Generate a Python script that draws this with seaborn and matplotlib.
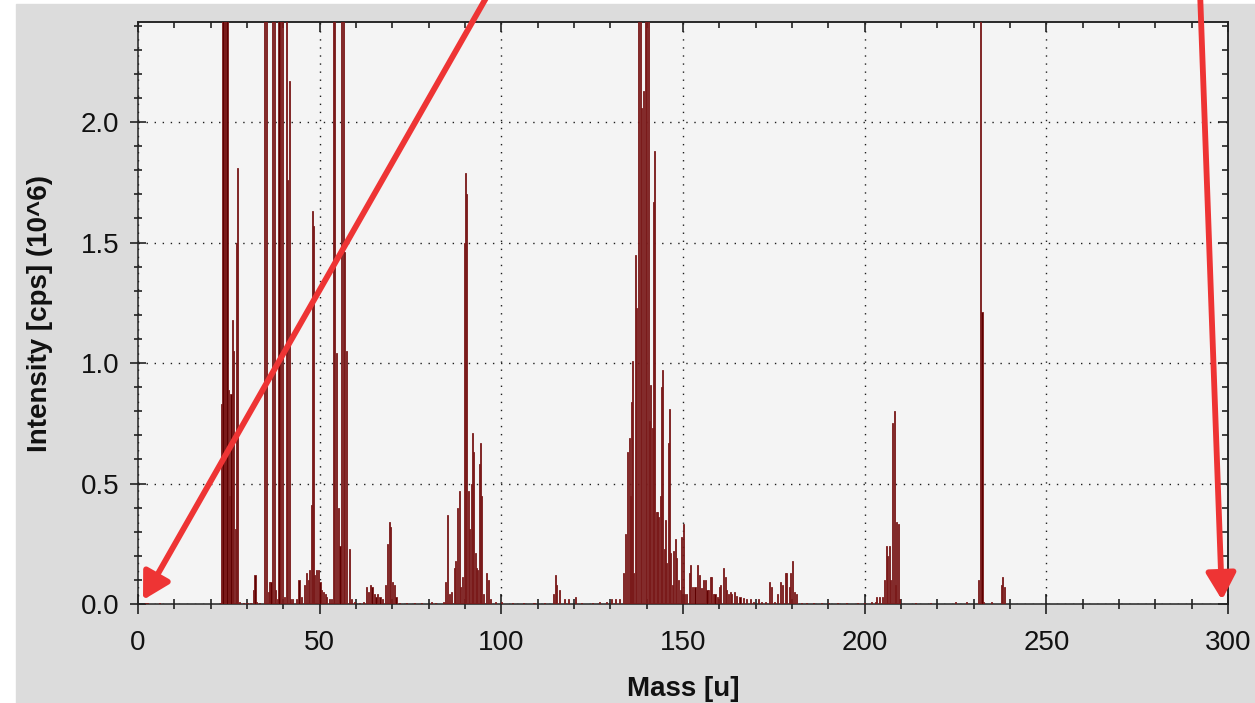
import matplotlib
matplotlib.use('Agg')

import pandas as pd
import seaborn as sns
import matplotlib.pyplot as plt
from matplotlib.patches import Rectangle, FancyArrowPatch
from matplotlib.ticker import MultipleLocator, FormatStrFormatter

# peaks: mass in u, intensity in 10^6 cps
# (2.6 = peak runs off the top of the axis)
mass_a = [2.0, 2.5, 6.0, 22.6, 23.0, 23.4, 23.7, 24.1, 24.5, 24.8, 25.2, 25.6, 26.0,
          26.4, 26.8, 27.1, 27.5, 27.9, 29.0, 30.0, 31.0, 31.9, 32.2, 32.6]
int_a = [0.006, 0.004, 0.003, 0.004, 0.83, 2.6, 2.6, 2.6, 2.6, 0.89, 0.45, 0.87, 1.18,
         1.05, 0.31, 1.50, 1.81, 0.01, 0.005, 0.005, 0.005, 0.06, 0.12, 0.01]

mass_b = [33.5, 34.9, 35.4, 35.8, 36.2, 36.6, 37.1, 37.5, 37.9, 38.3, 38.8, 39.3, 39.8,
          40.3, 40.9, 41.2, 41.6, 42.0, 42.5, 43.6, 44.3, 45.1, 45.9, 46.4, 46.9, 47.3,
          47.8, 48.1, 48.4, 48.7, 49.2, 49.6, 50.1, 50.5, 51.0, 51.5, 51.9, 52.6, 53.3,
          53.75, 54.2, 54.6, 55.1, 55.6, 56.1, 56.5, 56.9, 57.4, 58.1, 58.8]
int_b = [0.005, 2.6, 2.6, 0.05, 0.09, 0.09, 2.6, 2.6, 0.06, 0.02, 2.6, 2.6, 2.6,
         0.03, 2.6, 1.76, 2.17, 0.02, 0.02, 0.02, 0.10, 0.03, 0.08, 0.13, 0.10, 0.14,
         0.41, 1.63, 1.57, 0.12, 0.14, 0.14, 0.09, 0.06, 0.05, 0.04, 0.03, 0.02, 0.02,
         2.6, 2.6, 1.04, 0.40, 0.24, 2.6, 2.6, 1.46, 1.05, 0.23, 0.02]

mass_c = [59.7, 61.0, 62.0, 63.0, 63.4, 63.9, 64.4, 65.0, 65.5, 66.0, 66.6, 67.2, 68.0,
          68.7, 69.1, 69.5, 70.0, 70.6, 71.0, 72.0, 74.0, 76.0, 78.0, 80.7, 82.0, 84.0,
          84.7, 85.3, 85.7, 86.2, 87.0, 87.4, 88.0, 88.4, 88.7, 89.3, 89.8, 90.1, 90.5,
          90.9, 91.3, 91.7, 92.0, 92.4, 92.8, 93.1, 93.5, 93.9, 94.2, 94.6, 95.1, 96.0,
          96.4, 97.0, 98.5]
int_c = [0.01, 0.005, 0.01, 0.07, 0.05, 0.08, 0.07, 0.04, 0.03, 0.04, 0.03, 0.02, 0.08,
         0.25, 0.34, 0.32, 0.09, 0.08, 0.03, 0.005, 0.005, 0.005, 0.005, 0.01, 0.005, 0.01,
         0.09, 0.37, 0.04, 0.05, 0.15, 0.18, 0.40, 0.47, 0.07, 0.11, 1.50, 1.79, 1.70,
         0.47, 0.31, 0.50, 0.71, 0.63, 0.21, 0.15, 0.14, 0.58, 0.67, 0.45, 0.04, 0.13,
         0.10, 0.02, 0.01]

mass_d = [100.0, 103.0, 106.0, 109.0, 112.0, 114.4, 114.8, 115.2, 116.1, 117.5, 118.5,
          120.3, 122.0, 125.0, 127.0, 129.0, 130.4]
int_d = [0.01, 0.005, 0.005, 0.005, 0.005, 0.04, 0.12, 0.08, 0.06, 0.02, 0.02,
         0.03, 0.005, 0.005, 0.01, 0.01, 0.02]

mass_e = [131.5, 132.5, 133.6, 134.1, 134.8, 135.2, 135.5, 135.9, 136.2, 136.5, 137.0,
          137.3, 137.7, 138.2, 138.6, 139.1, 139.6, 140.0, 140.4, 140.7, 141.1, 141.6,
          141.9, 142.2, 142.6, 143.0, 143.3, 143.7, 144.1, 144.4, 144.8, 145.2, 145.5,
          146.0, 146.3, 146.6, 147.0, 147.5, 147.9, 148.3, 148.8, 149.2, 149.7, 150.1,
          150.5, 151.0, 151.8, 152.1, 152.7, 153.3, 154.0, 154.5]
int_e = [0.02, 0.02, 0.13, 0.29, 0.63, 0.69, 0.45, 0.84, 1.01, 0.13, 1.45,
         1.23, 2.6, 2.6, 2.06, 2.13, 2.6, 2.6, 2.6, 0.76, 0.91, 0.73,
         1.67, 1.88, 0.38, 0.38, 0.36, 0.45, 0.90, 0.97, 0.23, 0.35, 0.17,
         0.67, 0.81, 0.21, 0.08, 0.22, 0.27, 0.19, 0.10, 0.06, 0.28, 0.33,
         0.04, 0.04, 0.13, 0.16, 0.07, 0.07, 0.16, 0.12]

mass_f = [155.1, 155.6, 156.1, 156.6, 157.0, 157.5, 157.9, 158.4, 158.8, 159.4, 160.0,
          160.4, 161.1, 161.6, 162.0, 162.5, 163.0, 163.4, 164.1, 164.8, 165.7, 166.6,
          167.5, 168.5, 169.4, 170.7, 171.7, 172.6, 173.9, 174.4, 175.3, 176.0, 176.9,
          177.4, 178.1, 178.5, 179.2, 179.6, 180.2, 180.7, 181.3, 182.5, 184.0]
int_f = [0.065, 0.10, 0.10, 0.06, 0.06, 0.11, 0.11, 0.04, 0.04, 0.03, 0.07,
         0.08, 0.15, 0.11, 0.06, 0.04, 0.05, 0.04, 0.05, 0.035, 0.03, 0.025,
         0.02, 0.02, 0.01, 0.02, 0.01, 0.01, 0.09, 0.07, 0.01, 0.04, 0.09,
         0.08, 0.13, 0.13, 0.07, 0.13, 0.18, 0.05, 0.04, 0.005, 0.005]

mass_g = [186.0, 188.0, 190.0, 192.5, 195.0, 198.0, 200.0, 202.0, 202.9, 203.3, 204.2,
          205.0, 205.4, 205.9, 206.3, 206.8, 207.2, 207.6, 208.1, 208.4, 208.8, 209.3,
          209.7, 214.0, 218.0, 225.0, 228.0, 231.3, 231.8, 232.3, 232.7, 235.0, 237.7,
          238.0, 238.5]
int_g = [0.005, 0.005, 0.005, 0.005, 0.005, 0.005, 0.005, 0.01, 0.01, 0.03, 0.03,
         0.03, 0.10, 0.24, 0.20, 0.24, 0.10, 0.75, 0.80, 0.08, 0.34, 0.33,
         0.02, 0.005, 0.005, 0.01, 0.01, 0.10, 2.6, 1.21, 0.01, 0.01, 0.08,
         0.11, 0.07]

df = pd.DataFrame({
    'mass': mass_a + mass_b + mass_c + mass_d + mass_e + mass_f + mass_g,
    'intensity': int_a + int_b + int_c + int_d + int_e + int_f + int_g,
})

sns.set_style('ticks')
plt.rcParams['font.family'] = ['Liberation Sans', 'DejaVu Sans']

W, H = 1255, 703
fig = plt.figure(figsize=(W / 100, H / 100), dpi=100, facecolor='white')
# grey panel behind the plot (screenshot has a thin white strip left/top)
fig.patches.append(Rectangle((16 / W, 0), 1, 1 - 4 / H, transform=fig.transFigure,
                             color='#dcdcdc', zorder=-10))

ax = fig.add_axes([138 / W, 99 / H, 1090 / W, 582 / H])
ax.set_facecolor('#f4f4f4')
ax.set_axisbelow(True)

sns.barplot(data=df, x='mass', y='intensity', native_scale=True, errorbar=None,
            color='#5e0000', saturation=1, width=1.0,
            edgecolor='#7c1c1c', linewidth=0.6, ax=ax, zorder=3)

ax.set_xlim(0, 300)
ax.set_ylim(0, 2.415)

ax.xaxis.set_major_locator(MultipleLocator(50))
ax.xaxis.set_minor_locator(MultipleLocator(10))
ax.yaxis.set_major_locator(MultipleLocator(0.5))
ax.yaxis.set_minor_locator(MultipleLocator(0.1))
ax.yaxis.set_major_formatter(FormatStrFormatter('%.1f'))

ax.grid(which='major', color='#1e1e1e', lw=1.0, ls=(0, (1, 4.8)))

ax.tick_params(axis='x', which='major', direction='inout', length=14, width=1.1,
               labelsize=20, pad=12, color='#111111', labelcolor='#111111')
ax.tick_params(axis='x', which='minor', direction='inout', length=7, width=1.1,
               color='#111111')
ax.tick_params(axis='y', which='major', direction='inout', length=11, width=1.1,
               labelsize=20, pad=8, color='#111111', labelcolor='#111111')
ax.tick_params(axis='y', which='minor', direction='inout', length=6, width=1.1,
               color='#111111')

# top and right ticks point inward
top = ax.secondary_xaxis('top')
top.xaxis.set_major_locator(MultipleLocator(50))
top.xaxis.set_minor_locator(MultipleLocator(10))
top.tick_params(which='major', direction='in', length=7, width=1.1, labeltop=False,
                color='#111111')
top.tick_params(which='minor', direction='in', length=4.5, width=1.1, color='#111111')
right = ax.secondary_yaxis('right')
right.yaxis.set_major_locator(MultipleLocator(0.5))
right.yaxis.set_minor_locator(MultipleLocator(0.1))
right.tick_params(which='major', direction='in', length=7, width=1.1, labelright=False,
                  color='#111111')
right.tick_params(which='minor', direction='in', length=4, width=1.1, color='#111111')

for sp in list(ax.spines.values()) + list(top.spines.values()) + list(right.spines.values()):
    sp.set_color('#222222')
    sp.set_linewidth(1.1)

ax.set_xlabel('Mass [u]', fontsize=20, fontweight='bold', labelpad=14, color='#111111')
ax.set_ylabel('Intensity [cps] (10^6)', fontsize=20, fontweight='bold', labelpad=20,
              color='#111111')

# red annotation arrows laid over the screenshot
for tail, tip in [((490, 712), (143, 103)), ((1200, 712), (1222, 103))]:
    fig.add_artist(FancyArrowPatch(
        (tail[0] / W, tail[1] / H), (tip[0] / W, tip[1] / H),
        transform=fig.transFigure, arrowstyle='-|>,head_length=0.8,head_width=0.45',
        mutation_scale=20, color='#ee3434', lw=4.2, shrinkA=0, shrinkB=0, zorder=20))

fig.savefig('out.png', dpi=100, facecolor=fig.get_facecolor())
